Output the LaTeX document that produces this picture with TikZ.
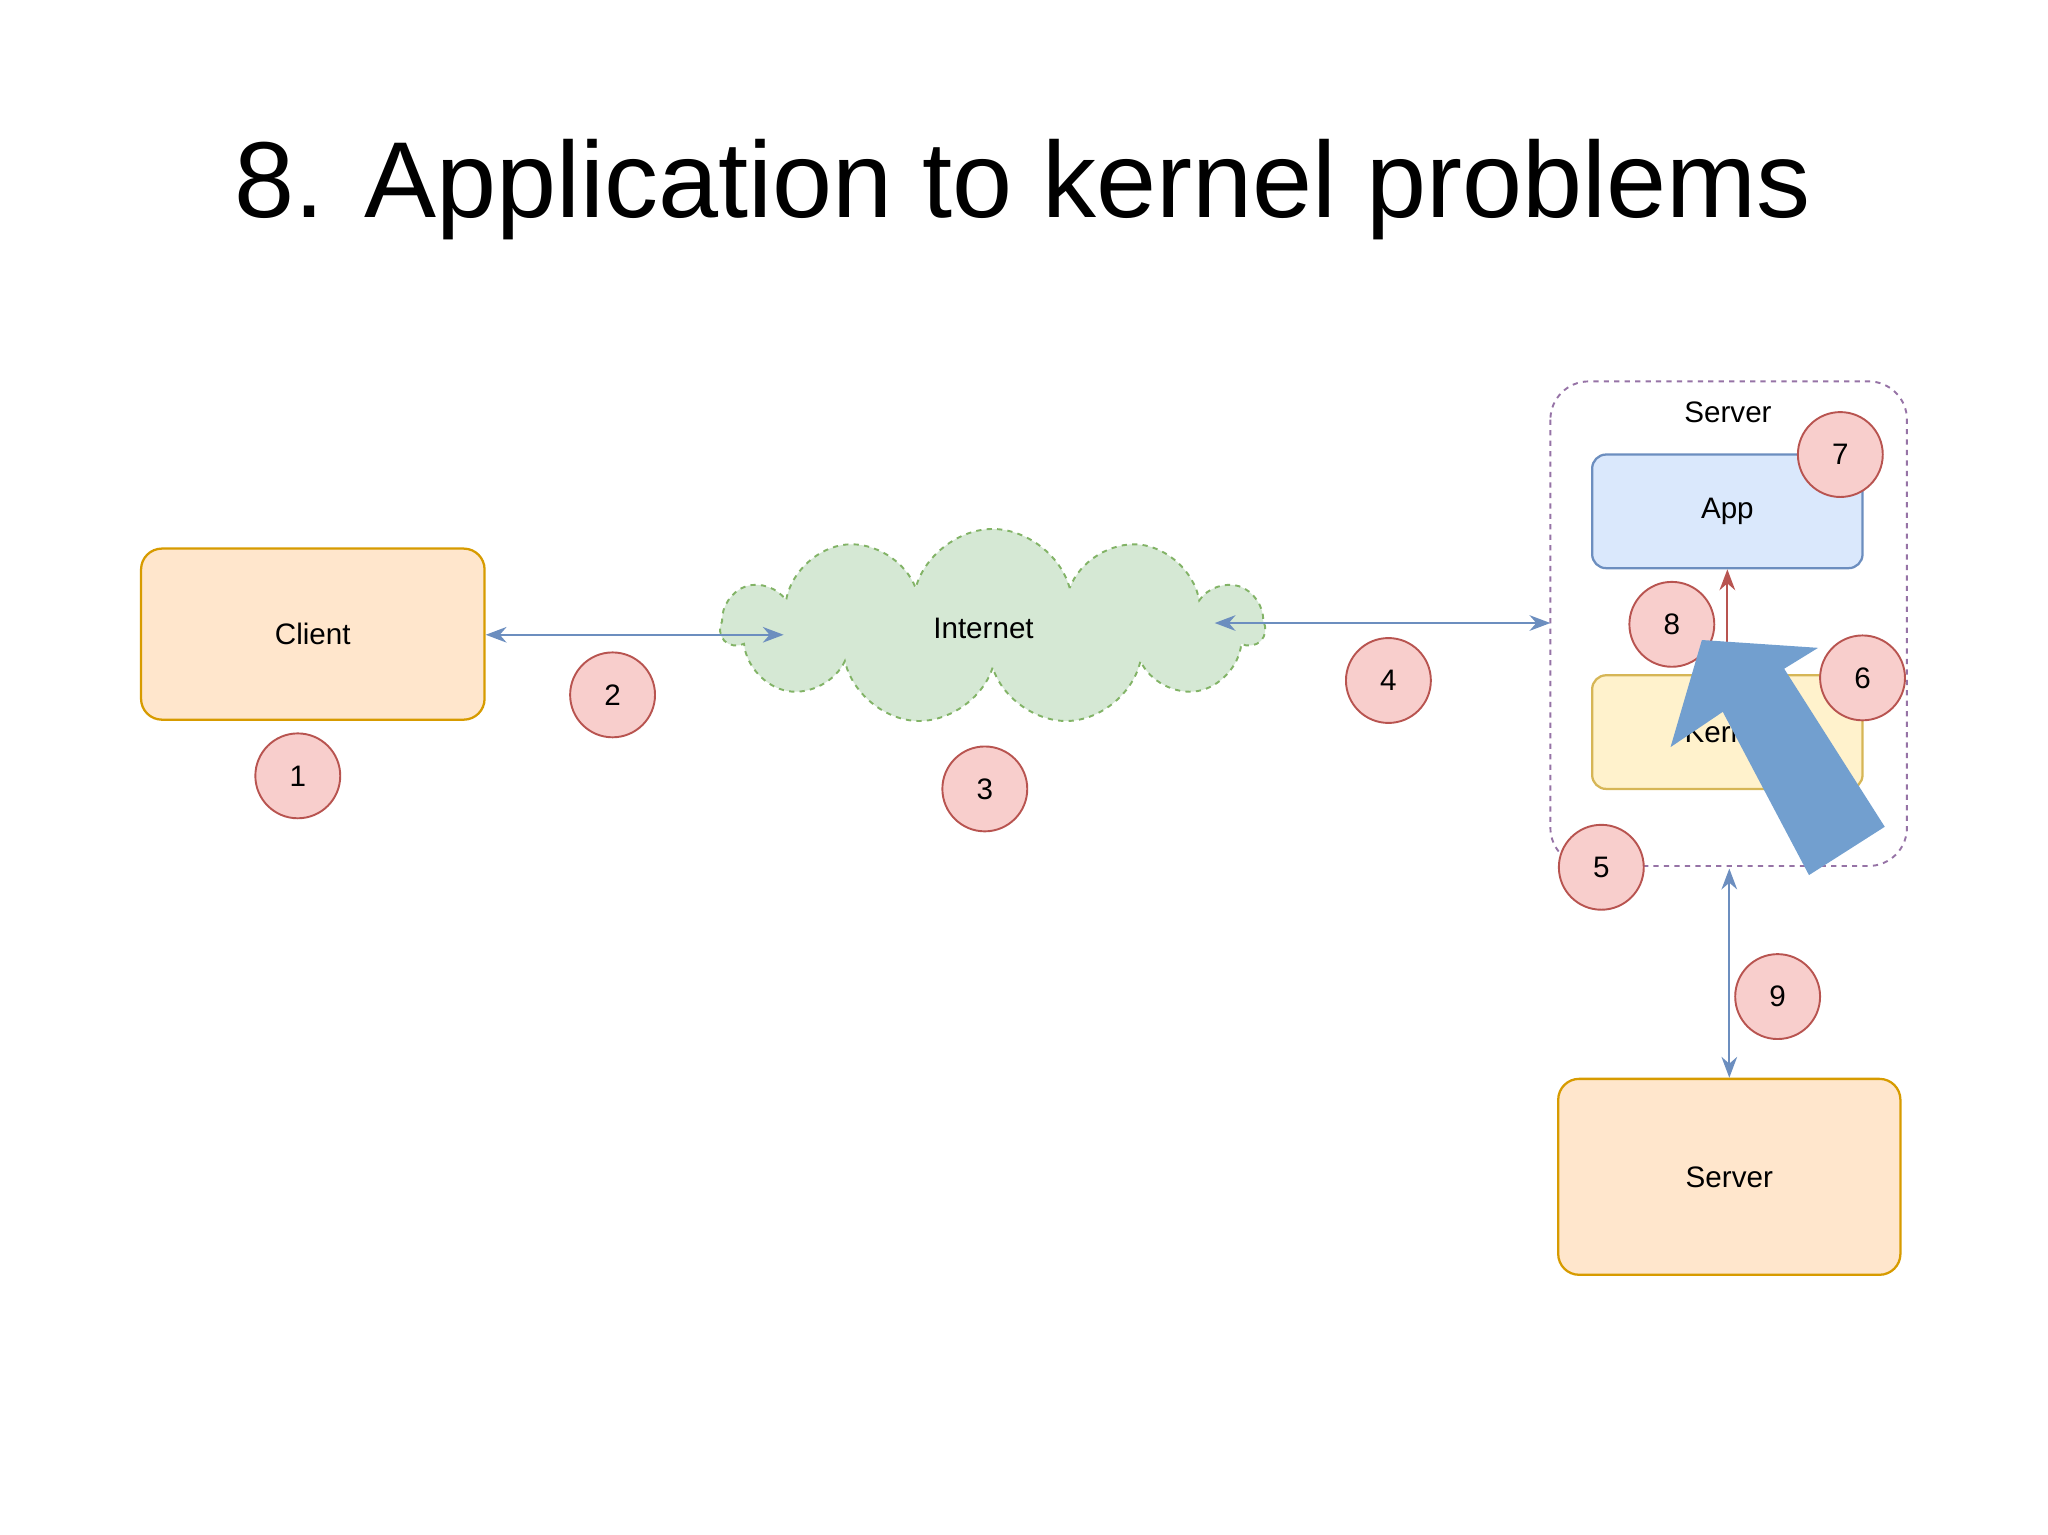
\documentclass[tikz,border=0pt]{standalone}
\usepackage{fontspec}
\setmainfont{Liberation Sans}
\usetikzlibrary{shapes.symbols,arrows.meta}
\definecolor{ofill}{HTML}{FFE6CC}\definecolor{oline}{HTML}{D79B00}
\definecolor{rfill}{HTML}{F8CECC}\definecolor{rline}{HTML}{B85450}
\definecolor{bline}{HTML}{6C8EBF}\definecolor{bfill}{HTML}{DAE8FC}
\definecolor{gfill}{HTML}{D5E8D4}\definecolor{gline}{HTML}{82B366}
\definecolor{yfill}{HTML}{FFF2CC}\definecolor{yline}{HTML}{D6B656}
\definecolor{pline}{HTML}{9673A6}\definecolor{big}{HTML}{729FCF}
\tikzset{
 box/.style={draw=oline,fill=ofill,line width=1.3pt,rounded corners=12pt,font=\fontsize{17}{20}\selectfont},
 num/.style={circle,draw=rline,fill=rfill,line width=1.1pt,minimum size=65\un,inner sep=0pt,font=\fontsize{17}{20}\selectfont},
 conn/.style={draw=bline,line width=1.1pt,{Stealth[length=12pt,width=9pt]}-{Stealth[length=12pt,width=9pt]}},
}
\newlength{\un}\setlength{\un}{0.75pt}
\begin{document}
\begin{tikzpicture}[x=0.75pt,y=-0.75pt]
\useasboundingbox (0,0) rectangle (1568,1175);
\node (title) at (783,145) {\fontsize{62}{70}\selectfont 8. Application to kernel problems};
\node[box,minimum width=263\un,minimum height=131\un] (client) at (239.5,485.5) {Client};
\node[num] (n1) at (228,594) {1};
\node[cloud,cloud puffs=11,aspect=2.8,draw=gline,fill=gfill,dashed,line width=1.1pt,minimum width=415\un,minimum height=150\un] (cloud) at (760,480) {};
\node[font=\fontsize{17}{20}\selectfont] (inet) at (753,481) {Internet};
\coordinate (cl) at (600,486);
\coordinate (cr) at (930,477);
\draw[conn] (client.east |- cl) -- (cl);
\node[num] (n2) at (469,532) {2};
\node[num] (n3) at (754,604) {3};
\draw[pline,dashed,line width=1.1pt,rounded corners=22pt] (1187,292) rectangle (1460,663);
\node (srvc) at (1187,477) {};
\draw[conn] (cr) -- (srvc.center);
\node[num] (n4) at (1063,521) {4};
\node[font=\fontsize{17}{20}\selectfont] (slab) at (1323,316) {Server};
\node[draw=bline,fill=bfill,line width=1.3pt,rounded corners=8pt,minimum width=207\un,minimum height=87\un,font=\fontsize{17}{20}\selectfont] (app) at (1322.5,391.5) {App};
\node[draw=yline,fill=yfill,line width=1.3pt,rounded corners=8pt,minimum width=207\un,minimum height=87\un,font=\fontsize{17}{20}\selectfont] (kern) at (1322.5,560.5) {Kernel};
\draw[rline,line width=1.3pt,-{Stealth[length=12pt,width=9pt]}] (kern.north) -- (app.south);
\node[num] (n7) at (1409,348) {7};
\node[num] (n8) at (1280,478) {8};
\node[num] (n6) at (1426,519) {6};
\fill[big] (1279,572) -- (1303,490) -- (1392,496) -- (1366,512) -- (1443,633) -- (1385,670) -- (1319,545) -- cycle;
\node[num] (n5) at (1226,664) {5};
\node[box,minimum width=262\un,minimum height=150\un] (server) at (1324,901) {Server};
\coordinate (ctop) at (1324,665);
\draw[conn] (ctop) -- (server.north);
\node[num] (n9) at (1361,763) {9};
\end{tikzpicture}
\end{document}
